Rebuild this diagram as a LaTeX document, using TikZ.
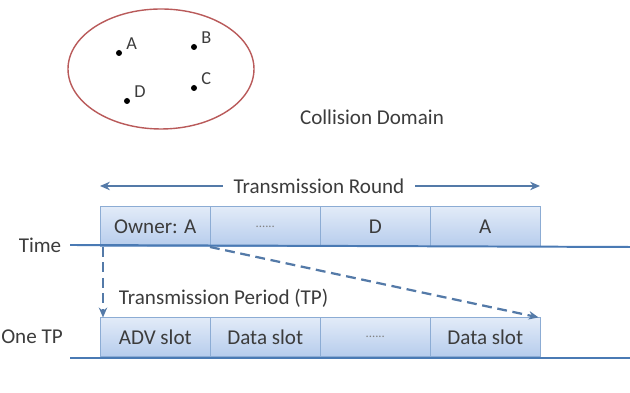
\documentclass[tikz,border=0pt]{standalone}
\usepackage{fontspec}
\setmainfont{Carlito}
\usetikzlibrary{shapes,positioning,arrows.meta}

\definecolor{axisblue}{RGB}{74,122,180}
\definecolor{arrowblue}{RGB}{84,122,168}
\definecolor{slottop}{RGB}{226,235,248}
\definecolor{slotbot}{RGB}{182,204,236}
\definecolor{slotline}{RGB}{140,172,212}
\definecolor{ringred}{RGB}{185,90,90}
\definecolor{txt}{RGB}{60,60,60}

\tikzset{
	>={Stealth[length=7pt, width=6pt]},
	slot/.style={draw=slotline, top color=slottop, bottom color=slotbot, minimum width=2.75cm, minimum height=1cm, inner sep=0pt, anchor=south west, text=txt, font=\fontsize{15}{18}\selectfont},
	host/.style={circle, fill=black, inner sep=0pt, minimum size=0.15cm},
	lbl/.style={text=txt, font=\fontsize{15}{18}\selectfont},
	hostlbl/.style={text=txt, font=\fontsize{13}{15}\selectfont},
	axis/.style={axisblue, line width=1.4pt},
	flow/.style={arrowblue, line width=1.6pt, dash pattern=on 7pt off 4pt, ->}
}

\begin{document}
\begin{tikzpicture}
		\useasboundingbox (0,0) rectangle (15.75,9.825);
		% collision domain
		\node[draw=ringred, line width=1pt, ellipse, minimum width=4.65cm, minimum height=3cm] (dom) at (4.025,8.1) {};
		\node[host] (a) at (2.975,8.5) {};
		\node[host] (b) at (4.85,8.65) {};
		\node[host] (c) at (4.85,7.625) {};
		\node[host] (d) at (3.175,7.3) {};
		\node[hostlbl, above right=-0.1cm and 0cm of a] (la) {A};
		\node[hostlbl, above right=-0.1cm and 0cm of b] (lb) {B};
		\node[hostlbl, above right=-0.1cm and 0cm of c] (lc) {C};
		\node[hostlbl, above right=-0.1cm and 0cm of d] (ld) {D};
		\node[lbl] (cd) at (9.3,6.9) {Collision Domain};

		% transmission round
		\node[lbl] (round) at (7.975,5.175) {Transmission Round};
		\coordinate (rl) at (2.5,5.175);
		\coordinate (rr) at (13.5,5.175);
		\draw[arrowblue, line width=1.6pt, ->] ([xshift=-0.15cm]round.west) -- (rl);
		\draw[arrowblue, line width=1.6pt, ->] ([xshift=0.15cm]round.east) -- (rr);

		\node[slot] (s1) at (2.5,3.65) {Owner: A};
		\node[slot] (s2) at (5.25,3.65) {\textcolor{gray}{\fontsize{9}{10}\selectfont ......}};
		\node[slot] (s3) at (8,3.65) {D};
		\node[slot] (s4) at (10.75,3.65) {A};

		\node[lbl] (time) at (1.0,3.7) {Time};
		\coordinate (te) at (15.75,3.65);
		\draw[axis] ([xshift=0.1cm]time.east) -- (te);

		% one transmission period
		\node[slot, minimum height=0.975cm] (p1) at (2.5,0.9) {ADV slot};
		\node[slot, minimum height=0.975cm] (p2) at (5.25,0.9) {Data slot};
		\node[slot, minimum height=0.975cm] (p3) at (8,0.9) {\textcolor{gray}{\fontsize{9}{10}\selectfont ......}};
		\node[slot, minimum height=0.975cm] (p4) at (10.75,0.9) {Data slot};

		\node[lbl] (onetp) at (0.8,1.4) {One TP};
		\coordinate (pe) at (15.75,0.875);
		\coordinate (ps) at (1.75,0.875);
		\draw[axis] (ps) -- (pe);

		\node[lbl, anchor=west] (tp) at (2.85,2.375) {Transmission Period (TP)};

		\draw[flow] ([xshift=0.075cm]s1.south west) -- ([xshift=0.075cm]p1.north west);
		\draw[flow] (s2.south west) -- ([xshift=-0.05cm]p4.north east);
\end{tikzpicture}
\end{document}
